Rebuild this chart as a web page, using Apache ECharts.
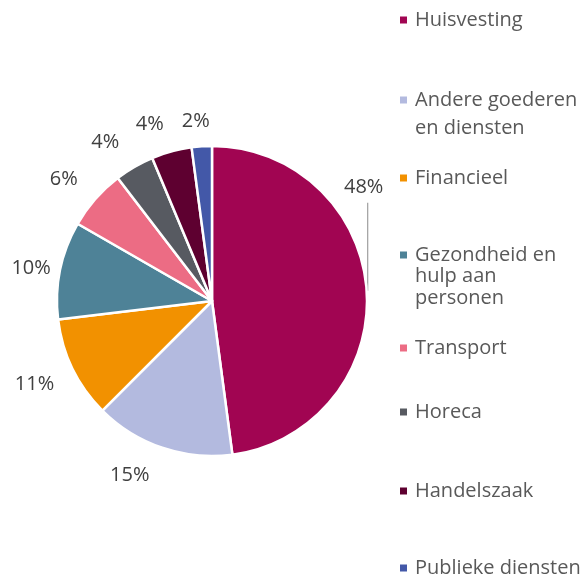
<!DOCTYPE html>
<html>
<head>
<meta charset="utf-8">
<script src="https://cdn.jsdelivr.net/npm/echarts@6/dist/echarts.min.js"></script>
<style>
  html, body { margin: 0; padding: 0; background: #fff; }
  #main { width: 588px; height: 581px; }
</style>
</head>
<body>
<div id="main"></div>
<script>
// categorieën, aandelen (%) en kleuren
var categories = ['Huisvesting', 'Andere goederen en diensten', 'Financieel', 'Gezondheid en hulp aan personen',
  'Transport', 'Horeca', 'Handelszaak', 'Publieke diensten']
var shares = [47.9, 14.6, 10.6, 10.2, 6.3, 4.1, 4.2, 2.1]
var colors = ['#A10552', '#B3BADF', '#F29100', '#4E8297', '#EC6C84', '#575A61', '#5E0030', '#4358A8']
// legendatekst zoals in het origineel afgebroken
var legendText = ['Huisvesting', 'Andere goederen\nen diensten', 'Financieel', 'Gezondheid en\nhulp aan\npersonen',
  'Transport', 'Horeca', 'Handelszaak', 'Publieke diensten']

var chart = echarts.init(document.getElementById('main'))
var center = [212, 301]
var radius = 155
var font = 'Open Sans'
// kleine verschuiving van de percentages (plaatsing zoals Excel)
var labelShift = [[0, 0], [-21, 3], [-6, 4], [6, 3], [-9, -2], [-14, -2], [-14, -2], [-4, 1]]
// midden van de eerste regel en regelhoogte per legenda-item
var legendY = [20, 100, 178, 255, 348, 412, 491, 568]
var legendLH = [24, 28, 24, 21.5, 24, 24, 24, 24]

var legends = categories.map(function (name, i) {
  var n = legendText[i].split('\n').length
  var lh = legendLH[i]
  // lege regels ervoor zodat het icoon bij de eerste regel staat
  var text = new Array(n).join('\n') + legendText[i]
  var total = 2 * n - 1
  return {
    data: [name],
    left: 398,
    top: legendY[i] - total * lh / 2,
    padding: 0,
    itemWidth: 9,
    itemHeight: 9,
    icon: 'rect',
    selectedMode: false,
    formatter: function () { return text },
    textStyle: { fontFamily: font, fontSize: 20, color: '#595959', lineHeight: lh, padding: [0, 0, 0, 2] },
  }
})

var option = {
  color: colors,
  animation: false,
  legend: legends,
  series: [
    {
      type: 'pie',
      center: center,
      radius: radius,
      avoidLabelOverlap: false,
      data: categories.map(function (name, i) {
        var item = { name: name, value: shares[i] }
        if (i === 0) item.labelLine = { lineStyle: { opacity: 1 } }
        return item
      }),
      itemStyle: { borderColor: '#fff', borderWidth: 2.5 },
      label: {
        show: true,
        position: 'outside',
        formatter: function (p) { return Math.round(p.percent) + '%' },
        fontFamily: font,
        fontSize: 20,
        color: '#404040',
      },
      labelLine: { show: true, length: 10, length2: 0, lineStyle: { color: '#A6A6A6', width: 1.3, opacity: 0 } },
      labelLayout: function (p) {
        var pts = p.labelLinePoints
        if (!pts) return
        var x1 = pts[0][0], y1 = pts[0][1]
        var ux = (x1 - center[0]) / radius, uy = (y1 - center[1]) / radius
        if (p.dataIndex === 0) {
          return {
            x: x1 - 3, y: y1 - 103, align: 'center', verticalAlign: 'middle',
            labelLinePoints: [[x1 + 1, y1], [x1 + 1, y1 - 44], [x1 + 1, y1 - 88]],
          }
        }
        var w = p.labelRect.width, h = p.labelRect.height
        var s = labelShift[p.dataIndex]
        return {
          x: center[0] + ux * (radius + 16) + ux * w / 2 + s[0],
          y: center[1] + uy * (radius + 16) + uy * h / 2 + s[1],
          align: 'center',
          verticalAlign: 'middle',
        }
      },
      emphasis: { disabled: true },
    },
  ],
}
chart.setOption(option)
</script>
</body>
</html>
